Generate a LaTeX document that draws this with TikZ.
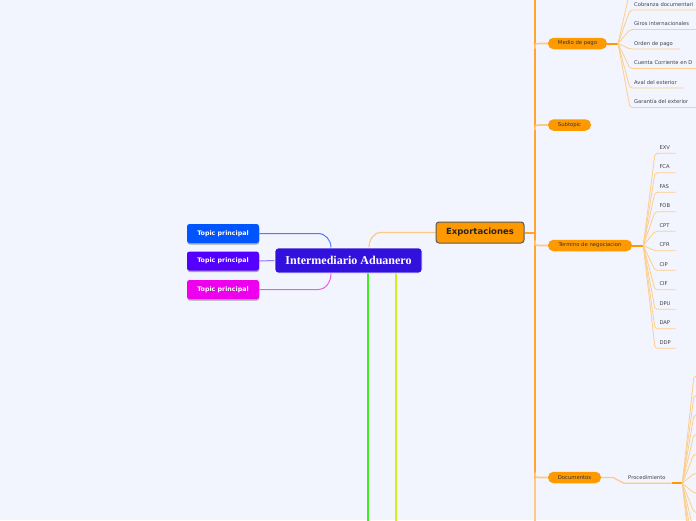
\documentclass[tikz,border=0pt]{standalone}
\usepackage{fontspec}
\setmainfont{DejaVu Sans}
\newfontfamily\titlefont{Liberation Serif}
\usetikzlibrary{shadows}
\definecolor{bgc}{RGB}{242,245,253}
\definecolor{cenc}{RGB}{51,17,221}
\definecolor{tblue}{RGB}{0,85,255}
\definecolor{tpurple}{RGB}{85,0,255}
\definecolor{tmag}{RGB}{238,0,238}
\definecolor{orng}{RGB}{255,153,0}
\definecolor{trunkc}{RGB}{255,165,45}
\definecolor{lorng}{RGB}{255,200,135}
\definecolor{llorng}{RGB}{255,205,140}
\definecolor{grn}{RGB}{60,240,30}
\definecolor{ylw}{RGB}{210,240,20}
\definecolor{txtc}{RGB}{65,65,75}
\definecolor{lblue}{RGB}{80,125,255}
\definecolor{lpurple}{RGB}{150,120,255}
\definecolor{lmag}{RGB}{238,90,238}
\pgfdeclarelayer{bglayer}
\pgfsetlayers{bglayer,main}
\begin{document}
\begin{tikzpicture}[x=1pt,y=-1pt,
  topic/.style={rectangle, rounded corners=2.5, minimum width=72, minimum height=19, inner sep=0,
    text=white, font=\fontsize{6.3}{7}\selectfont\bfseries,
    drop shadow={shadow xshift=0.3pt, shadow yshift=-1.5pt, fill=black!35, opacity=1}},
  central/.style={fill=cenc, draw=white, line width=0.8, rounded corners=3, minimum width=147,
    minimum height=25, inner sep=0, text=white, font=\titlefont\fontsize{12}{14}\selectfont\bfseries},
  export/.style={fill=orng, draw=black!65, line width=1, rounded corners=3, minimum width=88,
    minimum height=21, inner sep=0, text=black!85, font=\fontsize{8.5}{10}\selectfont\bfseries},
  sub/.style={fill=orng, rounded corners=5.5, minimum height=11.5, inner sep=0,
    text=black!80, font=\fontsize{5.3}{6}\selectfont},
  leaf/.style={inner sep=0, anchor=base west, text=txtc, font=\fontsize{5.2}{6}\selectfont},
  conn/.style={line width=1},
  branch/.style={draw=lorng, line width=1.6},
  thickor/.style={draw=orng, line width=2},
  fanl/.style={draw=llorng, line width=0.8, rounded corners=2}]

\begin{pgfonlayer}{bglayer}
\fill[bgc] (0,0) rectangle (696,520);
\end{pgfonlayer}
\useasboundingbox (0,0) rectangle (696,520);

% nodes
\node[central] (cen) at (348.5,260.5) {Intermediario Aduanero};
\node[topic, fill=tblue] (t1) at (223,233.5) {Topic principal};
\node[topic, fill=tpurple] (t2) at (223,261) {Topic principal};
\node[topic, fill=tmag] (t3) at (223,289.5) {Topic principal};
\node[export] (exp) at (480,232.5) {Exportaciones};
\node[sub, minimum width=59] (mp) at (577.5,43.5) {Medio de pago};
\node[sub, minimum width=43] (st) at (569.5,125) {Subtopic};
\node[sub, minimum width=84] (tn) at (590,245.5) {Termino de negociacion};
\node[sub, minimum width=53] (doc) at (574.5,477.5) {Documentos};
\node[leaf] (proc) at (628,479.3) {Procedimiento};

\coordinate (trTop) at (535,-5);
\coordinate (trJ) at (535,232.5);
\coordinate (trDoc) at (535,477.5);
\coordinate (trBot) at (535,525);
\coordinate (gEnd) at (368,525);
\coordinate (yEnd) at (396,525);

\begin{pgfonlayer}{bglayer}
\begin{scope}
\clip (0,0) rectangle (696,520);
% central connectors
\draw[conn, draw=lblue] (t1.east) -- (318,233.5) to[out=0,in=90] ([xshift=-17.5pt]cen.north);
\draw[conn, draw=lpurple] (t2.east) -- (cen.west);
\draw[conn, draw=lmag] (t3.east) -- (318,289.5) to[out=0,in=-90] ([xshift=-17.5pt]cen.south);
\draw[line width=1.2, draw=lorng] ([xshift=20.5pt]cen.north) to[out=90,in=180] (381,232.5) -- (exp.west);
\draw[line width=2.2, draw=grn] ([xshift=19.5pt]cen.south) -- (gEnd);
\draw[line width=2.2, draw=ylw] ([xshift=47.5pt]cen.south) -- (yEnd);

% trunk
\draw[thickor, draw=trunkc] (exp.east) -- (trJ);
\draw[line width=2, draw=trunkc] (trTop) -- (trDoc);
\draw[line width=2, draw=lorng] (trDoc) -- (trBot);

% branches
\draw[branch] (535,48.5) .. controls (535,43.5) .. (540,43.5) -- (mp.west);
\draw[branch] (535,130) .. controls (535,125) .. (540,125) -- (st.west);
\draw[branch] (535,240.5) .. controls (535,245.5) .. (540,245.5) -- (tn.west);
\draw[branch] (535,472.5) .. controls (535,477.5) .. (540,477.5) -- (doc.west);

% Medio de pago leaves
\draw[thickor] (mp.east) -- (618,43.5) coordinate (mf);
\draw[fanl] (mf) -- (630,-9.5) -- (700,-9.5);
\foreach \uy/\ex/\t [count=\i] in {10/700/Cobranza documentari, 29.5/700/Giros internacionales,
    49/680/Orden de pago, 68.5/700/Cuenta Corriente en D, 88/684/Aval del exterior,
    107.5/700/Garantía del exterior}{
  \coordinate (mu\i) at (630,\uy);
  \node[leaf] (m\i) at (634,\uy-4) {\t};
  \draw[fanl] (mf) -- (mu\i) -- (\ex,\uy);
}

% Termino de negociacion leaves
\draw[thickor] (tn.east) -- (643.3,245.5) coordinate (tf);
\foreach \t [count=\i] in {EXV,FCA,FAS,FOB,CPT,CFR,CIP,CIF,DPU,DAP,DDP}{
  \pgfmathsetmacro{\uy}{153.3+19.5*(\i-1)}
  \coordinate (nu\i) at (655,\uy);
  \node[leaf] (n\i) at (659.3,\uy-4) {\t};
  \draw[fanl] (tf) -- (nu\i) -- (675.5,\uy);
}

% Documentos / Procedimiento
\draw[branch, line width=1.2] (doc.east) -- (613,477.5) -- (624,483.3) -- (671.7,483.3) coordinate (pl);
\draw[thickor] (pl) -- (682.3,483.3) coordinate (pf);
\foreach \k in {0,...,11}{
  \pgfmathsetmacro{\uy}{376+19.5*\k}
  \draw[fanl] (pf) -- (694,\uy) -- (705,\uy);
}
\end{scope}
\end{pgfonlayer}
\end{tikzpicture}
\end{document}
